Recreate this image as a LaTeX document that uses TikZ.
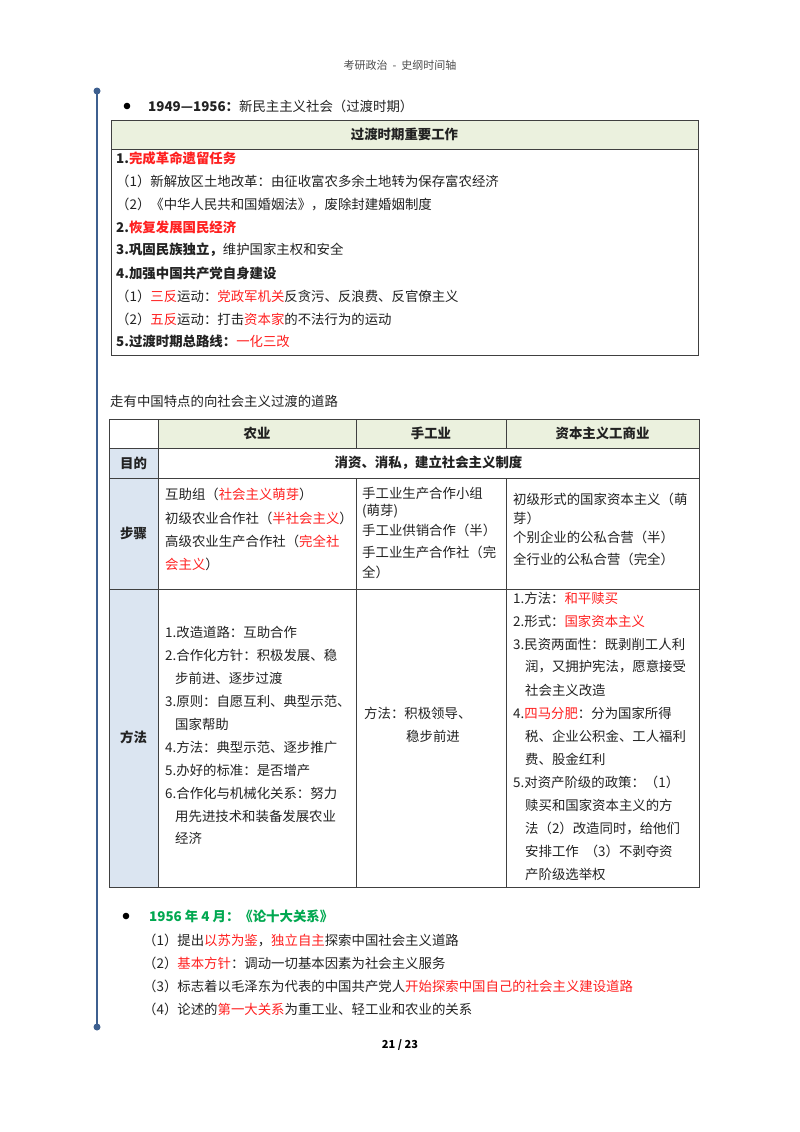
\documentclass[tikz,border=0pt]{standalone}
\usepackage{fontspec}
\setmainfont{Noto Sans CJK SC}
\definecolor{rd}{HTML}{FF2020}
\definecolor{gr}{HTML}{00A850}
\definecolor{hdg}{HTML}{EBF1DE}
\definecolor{hdb}{HTML}{DBE5F1}
\definecolor{tl}{HTML}{3D5F8F}
\definecolor{tx}{HTML}{222222}
\newcommand{\R}[1]{\textcolor{rd}{#1}}
\begin{document}
\begin{tikzpicture}[x=1pt,y=-1pt,
  t/.style={anchor=west,inner sep=0,text=tx,font=\fontsize{13.4}{15}\selectfont},
  tb/.style={t,font=\fontsize{13.4}{15}\selectfont\bfseries},
  hc/.style={inner sep=0,text=tx,font=\fontsize{13.4}{15}\selectfont\bfseries},
  grid/.style={draw=black!75,line width=0.8pt}]
\useasboundingbox (0,0) rectangle (800,1132);
\fill[white] (0,0) rectangle (800,1132);
% header
\node[inner sep=0,font=\fontsize{11}{12}\selectfont,text=black!70] (hdr) at (400,65) {考研政治 \ - \ 史纲时间轴};
% timeline
\coordinate (tA) at (97,91); \coordinate (tB) at (97,1027);
\draw[tl,line width=1.6pt] (tA) -- (tB);
\fill[tl] (tA) circle (3.5); \fill[tl] (tB) circle (3.5);
% section 1
\fill[black] (127,106) circle (3.3);
\node[t] (s1) at (148,106) {\textbf{1949—1956：}新民主主义社会（过渡时期）};
\fill[hdg] (111,120) rectangle (698,149);
\draw[grid] (111,120) rectangle (698,355);
\draw[grid] (111,149) -- (698,149);
\node[hc] (t1h) at (404.5,134.5) {过渡时期重要工作};
\node[tb] (a1) at (116,158) {1.\R{完成革命遗留任务}};
\node[t] (a2) at (116,181) {（1）新解放区土地改革：由征收富农多余土地转为保存富农经济};
\node[t] (a3) at (116,204) {（2）《中华人民共和国婚姻法》，废除封建婚姻制度};
\node[tb] (a4) at (116,227) {2.\R{恢复发展国民经济}};
\node[t] (a5) at (116,250) {\textbf{3.巩固民族独立，}维护国家主权和安全};
\node[tb] (a6) at (116,273) {4.加强中国共产党自身建设};
\node[t] (a7) at (116,296) {（1）\R{三反}运动：\R{党政军机关}反贪污、反浪费、反官僚主义};
\node[t] (a8) at (116,319) {（2）\R{五反}运动：打击\R{资本家}的不法行为的运动};
\node[t] (a9) at (116,341) {\textbf{5.过渡时期总路线：}\R{一化三改}};
% section 2
\node[t] (s2) at (110,401) {走有中国特点的向社会主义过渡的道路};
\fill[hdg] (158,419) rectangle (699,448);
\fill[hdb] (109,448) rectangle (158,887);
\draw[grid] (109,419) rectangle (699,887);
\draw[grid] (158,419) -- (158,887);
\draw[grid] (356,419) -- (356,448) (506,419) -- (506,448);
\draw[grid] (356,478) -- (356,887) (506,478) -- (506,887);
\draw[grid] (109,448) -- (699,448) (109,478) -- (699,478) (109,589) -- (699,589);
\node[hc] (h1) at (257,433.5) {农业};
\node[hc] (h2) at (431,433.5) {手工业};
\node[hc] (h3) at (602.5,433.5) {资本主义工商业};
\node[hc] (r1) at (133.5,463) {目的};
\node[hc] (r1t) at (428.5,463) {消资、消私，建立社会主义制度};
\node[hc] (r2) at (133.5,533) {步骤};
\node[hc] (r3) at (133.5,737) {方法};
% steps
\node[t] (b1) at (165,494) {互助组（\R{社会主义萌芽}）};
\node[t] (b2) at (165,518) {初级农业合作社（\R{半社会主义}）};
\node[t] (b3) at (165,541) {高级农业生产合作社（\R{完全社}};
\node[t] (b4) at (165,564) {\R{会主义}）};
\node[t] (c1) at (362,493) {手工业生产合作小组};
\node[t] (c2) at (362,511) {(萌芽)};
\node[t] (c3) at (362,530) {手工业供销合作（半）};
\node[t] (c4) at (362,552) {手工业生产合作社（完};
\node[t] (c5) at (362,572) {全）};
\node[t] (d1) at (513,499) {初级形式的国家资本主义（萌};
\node[t] (d2) at (513,518) {芽）};
\node[t] (d3) at (513,537) {个别企业的公私合营（半）};
\node[t] (d4) at (513,559) {全行业的公私合营（完全）};
% methods
\node[t] (e1) at (165,632) {1.改造道路：互助合作};
\node[t] (e2) at (165,655) {2.合作化方针：积极发展、稳};
\node[t] (e3) at (175,678) {步前进、逐步过渡};
\node[t] (e4) at (165,701) {3.原则：自愿互利、典型示范、};
\node[t] (e5) at (175,724) {国家帮助};
\node[t] (e6) at (165,747) {4.方法：典型示范、逐步推广};
\node[t] (e7) at (165,770) {5.办好的标准：是否增产};
\node[t] (e8) at (165,793) {6.合作化与机械化关系：努力};
\node[t] (e9) at (175,816) {用先进技术和装备发展农业};
\node[t] (e10) at (175,838) {经济};
\node[t] (f1) at (364,713) {方法：积极领导、};
\node[t] (f2) at (406,736) {稳步前进};
\node[t] (g1) at (513,598) {1.方法：\R{和平赎买}};
\node[t] (g2) at (513,621) {2.形式：\R{国家资本主义}};
\node[t] (g3) at (513,644) {3.民资两面性：既剥削工人利};
\node[t] (g4) at (525,667) {润，又拥护宪法，愿意接受};
\node[t] (g5) at (525,690) {社会主义改造};
\node[t] (g6) at (513,713) {4.\R{四马分肥}：分为国家所得};
\node[t] (g7) at (525,736) {税、企业公积金、工人福利};
\node[t] (g8) at (525,759) {费、股金红利};
\node[t] (g9) at (513,782) {5.对资产阶级的政策：（1）};
\node[t] (g10) at (525,805) {赎买和国家资本主义的方};
\node[t] (g11) at (525,828) {法（2）改造同时，给他们};
\node[t] (g12) at (525,851) {安排工作 \ （3）不剥夺资};
\node[t] (g13) at (525,874) {产阶级选举权};
% section 3
\fill[black] (126,916) circle (3.3);
\node[t,text=gr] (s3) at (149,916) {\textbf{1956 年 4 月：《论十大关系》}};
\node[t] (k1) at (143,940) {（1）提出\R{以苏为鉴}，\R{独立自主}探索中国社会主义道路};
\node[t] (k2) at (143,963) {（2）\R{基本方针}：调动一切基本因素为社会主义服务};
\node[t] (k3) at (143,986) {（3）标志着以毛泽东为代表的中国共产党人\R{开始探索中国自己的社会主义建设道路}};
\node[t] (k4) at (143,1009) {（4）论述的\R{第一大关系}为重工业、轻工业和农业的关系};
\node[inner sep=0,font=\fontsize{11}{12}\selectfont\bfseries] (pg) at (400,1045) {21 / 23};
\end{tikzpicture}
\end{document}
